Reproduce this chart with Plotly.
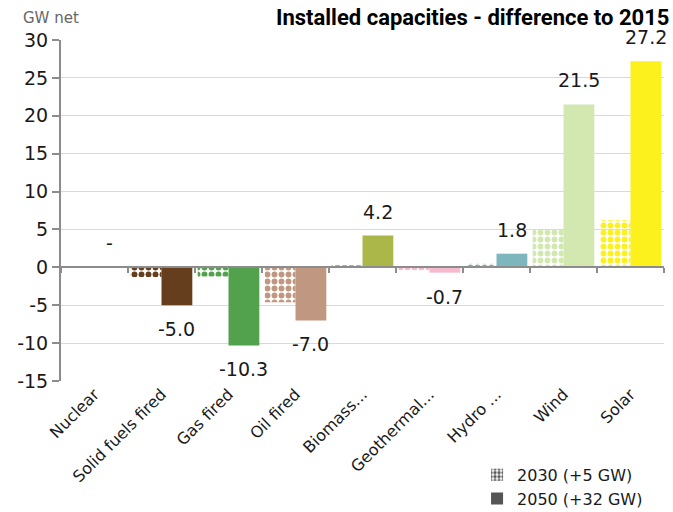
import plotly.graph_objects as go

# data
categories = ["Nuclear", "Solid fuels fired", "Gas fired", "Oil fired", "Biomass...",
              "Geothermal...", "Hydro ...", "Wind", "Solar"]
values_2030 = [0.0, -1.3, -1.2, -4.6, 0.3, -0.4, 0.5, 5.0, 6.2]
values_2050 = [0.0, -5.0, -10.3, -7.0, 4.2, -0.7, 1.8, 21.5, 27.2]
labels_2050 = ["-", "-5.0", "-10.3", "-7.0", "4.2", "-0.7", "1.8", "21.5", "27.2"]
colors = ["#8a8a8a", "#653f1d", "#52a14c", "#c09780", "#acb74a",
          "#f6b9cd", "#7eb6bd", "#d3e7b1", "#fdf11d"]
y_ticks = [30, 25, 20, 15, 10, 5, 0, -5, -10, -15]
y_tick_text = ["30", "25", "20", "15", "10", "5", "0", "-5", "-10", "-15"]

FONT = "DejaVu Sans"
GRID = "#d9d9d9"
AXIS = "#8c8c8c"

fig = go.Figure()

checker = dict(shape=".", fgcolor=colors, bgcolor="white",
               size=7, solidity=0.55, fillmode="replace")

# 2030 - checkered bars, left half of each category
fig.add_trace(go.Bar(
    x=categories, y=values_2030, width=0.46, offset=-0.46,
    marker=dict(color=colors, line_width=0, pattern=checker),
    showlegend=False, hoverinfo="skip",
))

# 2050 - solid bars, right half
fig.add_trace(go.Bar(
    x=categories, y=values_2050, width=0.46, offset=0.0,
    marker=dict(color=colors, line_width=0),
    showlegend=False, hoverinfo="skip",
))

# value labels above / below the 2050 bars
for i, (v, lab) in enumerate(zip(values_2050, labels_2050)):
    fig.add_annotation(
        x=i + 0.23, y=v, text=lab, showarrow=False,
        yshift=24 if v >= 0 else -24,
        font=dict(family=FONT, size=19, color="#1a1a1a"),
    )

# legend entries (kept on the zero-line axis so they draw nothing)
fig.add_trace(go.Bar(
    x=categories, y=[None] * len(categories), xaxis="x2", name="2030 (+5 GW)",
    marker=dict(color="#555555", line_width=0,
                pattern=dict(shape=".", fgcolor="#555555", bgcolor="white",
                             size=5, solidity=0.55, fillmode="replace")),
))
fig.add_trace(go.Bar(
    x=categories, y=[None] * len(categories), xaxis="x2", name="2050 (+32 GW)",
    marker=dict(color="#555555", line_width=0),
))

fig.add_annotation(
    xref="paper", yref="paper", x=1.012, y=1.065, xanchor="right", yanchor="middle",
    text="<b>Installed capacities - difference to 2015</b>", showarrow=False,
    font=dict(family="Roboto", size=22, color="black"),
)
fig.add_annotation(
    xref="paper", yref="paper", x=-0.066, y=1.065, xanchor="left", yanchor="middle",
    text="GW net", showarrow=False,
    font=dict(family=FONT, size=15, color="#666666"),
)

fig.update_layout(
    width=673, height=512,
    margin=dict(l=61, r=9, t=40, b=131, autoexpand=False),
    plot_bgcolor="white", paper_bgcolor="white",
    barmode="group",
    font=dict(family=FONT, color="#1a1a1a"),
    xaxis=dict(
        type="category", categoryorder="array", categoryarray=categories,
        range=[-0.5, len(categories) - 0.5], automargin=False,
        showgrid=False, showline=False, ticks="",
        tickangle=-45, tickfont=dict(size=16, color="#1a1a1a"),
    ),
    xaxis2=dict(
        type="category", categoryorder="array", categoryarray=categories,
        range=[-0.5, len(categories) - 0.5], automargin=False,
        overlaying="x", anchor="free", position=15 / 45,
        showgrid=False, showticklabels=False,
        showline=True, linecolor=AXIS, linewidth=2,
        ticks="outside", tickson="boundaries", ticklen=5, tickwidth=2, tickcolor=AXIS,
    ),
    yaxis=dict(
        range=[-15, 30], tickvals=y_ticks, ticktext=y_tick_text, automargin=False,
        showgrid=True, gridcolor=GRID, gridwidth=1, zeroline=False,
        showline=True, linecolor=AXIS, linewidth=2,
        ticks="outside", ticklen=7, tickwidth=2, tickcolor=AXIS,
        tickfont=dict(size=19, color="#1a1a1a"),
    ),
    legend=dict(
        x=0.69, y=-0.225, xanchor="left", yanchor="top",
        font=dict(family=FONT, size=16, color="#1a1a1a"),
        itemwidth=30, tracegroupgap=0, bgcolor="rgba(0,0,0,0)",
    ),
)

# the page body has a default 8px margin; drop it so the figure sits at 0,0
fig.write_html("out.html", config={"displayModeBar": False},
               post_script="document.body.style.margin = '0';")
